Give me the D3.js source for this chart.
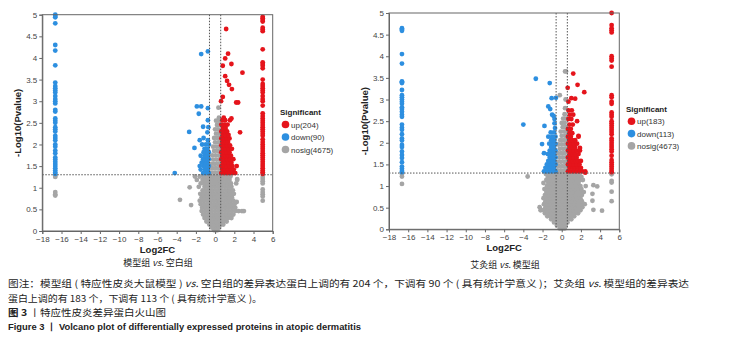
<!DOCTYPE html>
<html><head><meta charset="utf-8">
<script src="https://cdn.jsdelivr.net/npm/d3@7"></script>
<style>
body{margin:0;background:#fff;}
svg{display:block;font-family:"Liberation Sans",Arial,sans-serif;}
</style></head>
<body>
<svg id="c" width="731" height="341"></svg>
<script>
// ---------------- DATA ----------------
const xTickValues = [-18,-16,-14,-12,-10,-8,-6,-4,-2,0,2,4,6];
const yTickValues = [0,0.5,1,1.5,2,2.5,3,3.5,4,4.5,5];
const thresholdP = 1.3;      // -log10(0.05)
const thresholdFC = 0.585;   // log2(1.5)

const legendA = ["up(204)","down(90)","nosig(4675)"];
const legendB = ["up(183)","down(113)","nosig(4673)"];
const titleA = ["模型组 ", "vs.", " 空白组"];
const titleB = ["艾灸组 ", "vs.", " 模型组"];

// vertical columns of points (x, list of y)
const downColA = {x:-16.65, ys:[5.0,4.97,4.94,4.8,4.3,4.17,3.83,3.43,3.35,3.3,3.25,3.2,3.12,3.05,3.0,2.95,2.8,2.76,2.6,2.55,2.5,2.4,2.35,2.3,2.2,2.15,2.1,2.0,1.95,1.86,1.8,1.7,1.65,1.6,1.55,1.5,1.45,1.4,1.35,1.32]};
const nosigColA1 = {x:-16.65, ys:[1.28,1.25,0.9,0.85,0.82]};
const upColA = {x:4.96, ys:[4.95,4.92,4.88,4.84,4.7,4.66,4.62,4.2,3.9,3.86,3.82,3.76,3.5,3.4,3.35,3.3,3.25,3.2,3.12,3.05,3.0,2.9,2.72,2.66,2.6,2.55,2.5,2.45,2.4,2.35,2.3,2.25,2.2,2.12,2.06,2.0,1.95,1.9,1.85,1.8,1.75,1.7,1.65,1.6,1.55,1.5,1.45,1.4,1.36,1.32]};
const nosigColA2 = {x:4.96, ys:[1.25,1.2,1.15,1.1,0.96,0.9,0.85,0.8,0.7]};

const downColB = {x:-16.65, ys:[4.65,4.62,4.59,4.05,3.83,3.42,3.4,3.38,3.22,3.1,3.05,3.0,2.95,2.9,2.82,2.78,2.72,2.65,2.6,2.42,2.35,2.3,2.2,2.1,2.05,1.95,1.9,1.8,1.72,1.65,1.55,1.45,1.4,1.35,1.32]};
const nosigColB1 = {x:-16.65, ys:[1.28,1.22,1.05]};
const upColB = {x:5.2, ys:[5.0,4.72,4.65,4.6,4.55,4.0,3.95,3.9,3.76,3.1,3.05,2.95,2.9,2.7,2.65,2.6,2.5,2.45,2.4,2.35,2.3,2.25,2.2,2.1,2.05,2.0,1.95,1.9,1.85,1.8,1.7,1.6,1.55,1.5,1.45,1.4,1.35,1.32]};
const nosigColB2 = {x:5.2, ys:[1.27,1.12,1.08,0.87,0.65]};

// clouds as rows: [y, x1, x2, ...]
const nosigRowsA = [
 [0.02,-0.1,0.1,0.25],[0.08,-0.35,-0.1,0.15,0.4],[0.15,-0.6,-0.3,0.0,0.3,0.6,0.85],
 [0.22,-0.9,-0.55,-0.2,0.15,0.5,0.85,1.2],[0.3,-1.1,-0.75,-0.4,-0.05,0.3,0.65,1.0,1.35,1.7],
 [0.38,-1.25,-0.9,-0.55,-0.2,0.15,0.5,0.85,1.2,1.55,1.9],
 [0.46,-1.4,-1.05,-0.7,-0.35,0,0.35,0.7,1.05,1.4,1.75,2.1,2.45,2.8,3.0],
 [0.54,-1.35,-1.0,-0.65,-0.3,0.05,0.4,0.75,1.1,1.45,1.8,2.1],
 [0.62,-1.5,-1.15,-0.8,-0.45,-0.1,0.25,0.6,0.95,1.3,1.65,2.0],
 [0.7,-1.6,-1.25,-0.9,-0.55,-0.2,0.15,0.5,0.85,1.2,1.55,1.9],
 [0.78,-1.4,-1.05,-0.7,-0.35,0,0.35,0.7,1.05,1.4,1.75],
 [0.86,-1.55,-1.2,-0.85,-0.5,-0.15,0.2,0.55,0.9,1.25,1.6,1.95],
 [0.94,-1.3,-0.95,-0.6,-0.25,0.1,0.45,0.8,1.15,1.5,1.85],
 [1.02,-1.7,-1.1,-0.75,-0.4,-0.05,0.3,0.65,1.0,1.35,1.7],
 [1.1,-1.5,-1.15,-0.8,-0.45,-0.1,0.25,0.6,0.95,1.3,1.65,2.2],
 [1.18,-1.9,-1.3,-0.95,-0.6,-0.25,0.1,0.45,0.8,1.15,1.5,2.3],
 [1.26,-2.1,-1.6,-1.2,-0.85,-0.5,-0.15,0.2,0.55,0.9,1.25,1.6],
 [1.35,-0.45,-0.1,0.25,0.5],[1.45,-0.3,0.05,0.4],[1.55,-0.4,-0.05,0.3,0.5],[1.65,-0.2,0.15,0.45],
 [1.75,-0.3,0.05,0.4],[1.85,-0.1,0.25,0.5],[1.95,-0.2,0.15,0.45],[2.05,0.0,0.35],
 [2.15,-0.1,0.25,0.5],[2.25,0.1,0.4],[2.35,0.0,0.3],[2.45,0.2,0.45],[2.55,0.1,0.35],[2.62,0.4],[2.85,0.35]
];
const nosigExtraA = [[-3.66,0.72],[-2.65,1.01],[-2.5,0.6],[2.25,0.67],[2.3,1.2]];

const upRowsA = [
 [1.34,0.65,0.95,1.25,1.55,1.85,2.1],[1.42,0.75,1.05,1.35,1.65,1.95],[1.5,0.65,0.9,1.2,1.5,1.8,2.25],
 [1.58,0.8,1.1,1.4,1.7],[1.66,0.65,0.95,1.25,1.55,1.9],[1.74,0.75,1.05,1.35,1.65],
 [1.82,0.65,0.9,1.2,1.5],[1.9,0.8,1.1,1.4,1.75],[1.98,0.65,0.95,1.25,1.55],[2.06,0.75,1.05,1.35],
 [2.14,0.65,0.9,1.2,1.5],[2.22,0.8,1.1,1.4],[2.3,0.65,0.95,1.25],[2.38,0.8,1.1],
 [2.46,0.65,0.95,1.3],[2.56,0.75,1.05,1.55],[2.62,0.9]
];
const upExtraA = [[1.15,4.67],[1.35,4.1],[1.05,3.99],[1.7,3.86],[0.8,3.82],[2.85,3.66],[1.05,3.58],[1.25,3.47],[1.45,3.38],[1.75,3.28],[0.8,3.1],[0.62,3.0],[2.2,2.97],[2.4,2.97],[2.6,2.28],[1.7,2.6]];

const downRowsA = [
 [1.34,-0.65,-0.95,-1.25],[1.42,-0.75,-1.05,-1.5],[1.5,-0.65,-0.9,-1.2,-1.6],[1.58,-0.8,-1.1,-1.4],
 [1.66,-0.65,-0.95,-1.25],[1.74,-0.75,-1.05,-1.5],[1.82,-0.65,-0.9,-1.2],[1.9,-0.8,-1.1],
 [2.0,-0.65,-0.95,-1.35],[2.1,-0.75,-1.6]
];
const downExtraA = [[-0.75,4.15],[-1.45,4.09],[-1.9,2.88],[-1.45,2.88],[-0.75,2.84],[-1.7,2.71],[-0.75,2.56],[-1.25,2.41],[-2.7,2.29],[-0.8,2.28],[-2.15,1.92],[-4.2,1.34],[-1.2,2.15],[-0.7,2.4]];

const nosigRowsB = [
 [0.02,-0.2,0.05,0.3],[0.09,-0.5,-0.2,0.1,0.4],[0.16,-0.8,-0.45,-0.1,0.25,0.6],
 [0.23,-1.1,-0.75,-0.4,-0.05,0.3,0.65,1.0],[0.3,-1.5,-1.15,-0.8,-0.45,-0.1,0.25,0.6,0.95,1.3],
 [0.37,-1.75,-1.4,-1.05,-0.7,-0.35,0,0.35,0.7,1.05,1.4,1.7],
 [0.44,-2.2,-1.9,-1.55,-1.2,-0.85,-0.5,-0.15,0.2,0.55,0.9,1.25,1.6,1.95],
 [0.51,-2.3,-1.7,-1.35,-1.0,-0.65,-0.3,0.05,0.4,0.75,1.1,1.45,1.8,2.15],
 [0.58,-1.85,-1.5,-1.15,-0.8,-0.45,-0.1,0.25,0.6,0.95,1.3,1.65,2.0,2.4],
 [0.65,-1.7,-1.35,-1.0,-0.65,-0.3,0.05,0.4,0.75,1.1,1.45,1.8,2.1],
 [0.72,-1.9,-1.55,-1.2,-0.85,-0.5,-0.15,0.2,0.55,0.9,1.25,1.6,1.95],
 [0.79,-1.75,-1.4,-1.05,-0.7,-0.35,0,0.35,0.7,1.05,1.4,1.75,2.1],
 [0.86,-1.6,-1.25,-0.9,-0.55,-0.2,0.15,0.5,0.85,1.2,1.55,1.9,2.3],
 [0.93,-1.8,-1.45,-1.1,-0.75,-0.4,-0.05,0.3,0.65,1.0,1.35,1.7,2.05],
 [1.0,-1.55,-1.2,-0.85,-0.5,-0.15,0.2,0.55,0.9,1.25,1.6,1.95,2.5],
 [1.07,-1.9,-1.4,-1.05,-0.7,-0.35,0,0.35,0.7,1.05,1.4,1.75],
 [1.14,-1.6,-1.25,-0.9,-0.55,-0.2,0.15,0.5,0.85,1.2,1.55,1.9,2.2],
 [1.21,-1.45,-1.1,-0.75,-0.4,-0.05,0.3,0.65,1.0,1.35,1.7,2.05],
 [1.28,-1.65,-1.3,-0.95,-0.6,-0.25,0.1,0.45,0.8,1.15,1.5,1.85],
 [1.36,-0.45,-0.1,0.25,0.5],[1.46,-0.3,0.05,0.4],[1.56,-0.45,-0.1,0.25,0.5],[1.66,-0.25,0.1,0.45],
 [1.76,-0.4,-0.05,0.3],[1.86,-0.2,0.15,0.5],[1.96,-0.35,0.0,0.35],[2.06,-0.15,0.2,0.5],
 [2.16,0.0,0.35],[2.26,-0.1,0.25,0.5],[2.36,0.1,0.4],[2.46,0.0,0.3],[2.56,0.15,0.45],
 [2.66,0.3],[2.8,0.35],[3.1,-0.2],[3.0,0.4],[3.65,0.35,0.45]
];
const nosigExtraB = [[-3.55,1.22],[3.3,1.02],[3.7,0.99],[3.2,0.82],[3.2,0.66],[3.3,0.45],[4.2,0.43]];

const upRowsB = [
 [1.34,0.65,0.95,1.25,1.55,1.85,2.15,2.45],[1.42,0.8,1.1,1.4,1.7,2.0],[1.5,0.65,0.95,1.25,1.55,1.85],
 [1.58,0.8,1.1,1.4,1.7,2.0],[1.66,0.65,0.95,1.25,1.55],[1.74,0.8,1.1,1.4,1.75],
 [1.82,0.65,0.95,1.25,1.55,1.9],[1.9,0.8,1.1,1.4],[1.98,0.65,0.95,1.25,1.6],[2.06,0.8,1.1,1.4],
 [2.14,0.65,0.95,1.75],[2.22,0.8,1.1],[2.32,0.65,0.95],[2.42,0.8,1.15],[2.55,0.7,1.0],
 [2.65,0.85,1.2],[2.75,0.7,1.05]
];
const upExtraB = [[1.2,3.6],[1.65,3.34],[2.35,3.17],[0.62,3.27],[1.0,3.03],[1.4,3.02],[0.7,2.95],[1.75,2.16],[1.9,1.88],[2.45,1.31],[1.6,2.5]];

const downRowsB = [
 [1.34,-0.65,-0.95,-1.25,-1.55,-1.85],[1.42,-0.8,-1.1,-1.4,-1.7],[1.5,-0.65,-0.95,-1.25,-1.55],
 [1.58,-0.8,-1.1,-1.4],[1.66,-0.65,-0.95,-1.25],[1.74,-0.8,-1.1,-1.45],[1.82,-0.65,-0.95,-1.25],
 [1.9,-0.8,-1.1],[1.98,-0.65,-0.95,-1.3],[2.06,-0.8,-1.1],[2.14,-0.65,-1.0,-1.4],[2.24,-0.8,-1.15],
 [2.34,-0.7],[2.45,-0.75]
];
const downExtraB = [[-2.7,3.48],[-1.25,3.38],[-4.0,2.42],[-1.05,3.03],[-0.6,3.04],[-1.4,2.84],[-1.2,2.78],[-0.85,2.62],[-1.8,2.39],[-2.05,1.97],[-1.85,1.76],[-0.75,2.55],[-1.0,2.65]];

const captionLines = [
 ["图注：模型组 ( 特应性皮炎大鼠模型 ) ", "vs.", " 空白组的差异表达蛋白上调的有 204 个，下调有 90 个 ( 具有统计学意义 )；艾灸组 ", "vs.", " 模型组的差异表达"],
 ["蛋白上调的有 183 个，下调有 113 个 ( 具有统计学意义 )。"]
];
const figLabelCN = ["图 3", "丨特应性皮炎差异蛋白火山图"];
const figLabelEN = "Figure 3  丨  Volcano plot of differentially expressed proteins in atopic dermatitis";

// ---------------- DRAW ----------------
const COLORS = {up:"#e5141b", down:"#2d8fe0", nosig:"#a5a5a5"};
const svg = d3.select("#c");

function rowsToPts(rows){ return rows.flatMap(([y,...xs]) => xs.map(x => [x,y])); }
function colToPts(col){ return col.ys.map(y => [col.x,y]); }

function volcano(cfg){
  const x = d3.scaleLinear().domain([-18,6]).range([cfg.left,cfg.right]);
  const y = d3.scaleLinear().domain([0,5]).range([cfg.bottom,cfg.top]);
  const g = svg.append("g");

  // points
  const groups = [
    ["nosig", cfg.nosig],
    ["down", cfg.down],
    ["up", cfg.up]
  ];
  groups.forEach(([k,pts]) => {
    g.append("g").selectAll("circle").data(pts).join("circle")
      .attr("cx", d => x(d[0])).attr("cy", d => y(d[1])).attr("r", 2.4)
      .attr("fill", COLORS[k]);
  });

  // threshold lines
  const dl = g.append("g").attr("stroke","#555").attr("stroke-width",1).attr("stroke-dasharray","1.5,1.5").attr("fill","none");
  dl.append("line").attr("x1",x(-thresholdFC)).attr("x2",x(-thresholdFC)).attr("y1",y(5)).attr("y2",y(0));
  dl.append("line").attr("x1",x(thresholdFC)).attr("x2",x(thresholdFC)).attr("y1",y(5)).attr("y2",y(0));
  dl.append("line").attr("x1",x(-18)).attr("x2",x(6)).attr("y1",y(thresholdP)).attr("y2",y(thresholdP));

  // frame
  g.append("rect").attr("x",cfg.left).attr("y",cfg.top).attr("width",cfg.right-cfg.left).attr("height",cfg.bottom-cfg.top)
    .attr("fill","none").attr("stroke","#666").attr("stroke-width",1);

  // axes
  const xa = g.append("g").attr("transform",`translate(0,${cfg.bottom})`)
    .call(d3.axisBottom(x).tickValues(xTickValues).tickSize(3).tickPadding(2).tickFormat(d3.format("d")));
  const ya = g.append("g").attr("transform",`translate(${cfg.left},0)`)
    .call(d3.axisLeft(y).tickValues(yTickValues).tickSize(3).tickPadding(2).tickFormat(d => String(d)));
  [xa,ya].forEach(a => {
    a.select(".domain").attr("stroke","#666");
    a.selectAll(".tick line").attr("stroke","#666");
    a.selectAll(".tick text").attr("fill","#444").style("font-size","8px").style("font-family","Liberation Sans, Arial, sans-serif");
  });

  // axis titles
  g.append("text").attr("x",(cfg.left+cfg.right)/2).attr("y",cfg.bottom+21.5)
    .attr("text-anchor","middle").attr("font-weight","bold").attr("font-size",9.5).attr("fill","#222").text("Log2FC");
  g.append("text").attr("transform",`translate(${cfg.left-21},${(cfg.top+cfg.bottom)/2}) rotate(-90)`)
    .attr("text-anchor","middle").attr("font-weight","bold").attr("font-size",9.5).attr("fill","#222").text("-Log10(Pvalue)");

  // legend
  const lg = g.append("g").attr("transform",`translate(${cfg.legX},${cfg.legY})`);
  lg.append("text").attr("x",-3).attr("y",3).attr("font-weight","bold").attr("font-size",8).attr("fill","#222").text("Significant");
  ["up","down","nosig"].forEach((k,i) => {
    lg.append("circle").attr("cx",2.5).attr("cy",cfg.legStep*(i+1)).attr("r",3.8).attr("fill",COLORS[k]);
    lg.append("text").attr("x",8).attr("y",cfg.legStep*(i+1)+3).attr("font-size",8).attr("fill","#333").text(cfg.legend[i]);
  });

  // title below
  const t = g.append("text").attr("x",cfg.titleX).attr("y",cfg.titleY).attr("text-anchor","middle")
    .attr("font-size",9).attr("fill","#222").style("font-family","Noto Sans CJK SC, sans-serif");
  cfg.title.forEach((s,i) => t.append("tspan").attr("font-style", i===1 ? "italic" : null).text(s));
}

volcano({
  left:42.3, right:272.7, top:14.7, bottom:231,
  nosig:[...rowsToPts(nosigRowsA), ...nosigExtraA, ...colToPts(nosigColA1), ...colToPts(nosigColA2)],
  down:[...rowsToPts(downRowsA), ...downExtraA, ...colToPts(downColA)],
  up:[...rowsToPts(upRowsA), ...upExtraA, ...colToPts(upColA)],
  legend:legendA, legX:283, legY:112, legStep:12.5,
  title:titleA, titleX:158, titleY:266
});
volcano({
  left:389, right:619.3, top:13, bottom:229.3,
  nosig:[...rowsToPts(nosigRowsB), ...nosigExtraB, ...colToPts(nosigColB1), ...colToPts(nosigColB2)],
  down:[...rowsToPts(downRowsB), ...downExtraB, ...colToPts(downColB)],
  up:[...rowsToPts(upRowsB), ...upExtraB, ...colToPts(upColB)],
  legend:legendB, legX:629, legY:109, legStep:12.3,
  title:titleB, titleX:505, titleY:268
});

// caption
const cap = svg.append("g").attr("fill","#222").style("font-family","Noto Sans CJK SC, sans-serif");
const capWidths = [681, 254];
captionLines.forEach((parts,i) => {
  const t = cap.append("text").attr("x",8).attr("y",287+i*14.5).attr("font-size",9.5)
    .attr("textLength",capWidths[i]).attr("lengthAdjust","spacingAndGlyphs");
  parts.forEach(s => t.append("tspan").attr("font-style", s==="vs." ? "italic" : null).text(s));
});
const t3 = cap.append("text").attr("x",8).attr("y",316).attr("font-size",9.5)
  .attr("textLength",158).attr("lengthAdjust","spacingAndGlyphs");
t3.append("tspan").attr("font-weight","bold").text(figLabelCN[0]);
t3.append("tspan").text(" " + figLabelCN[1]);
cap.append("text").attr("x",8).attr("y",330).attr("font-size",9).attr("font-weight","bold")
  .attr("textLength",353).attr("lengthAdjust","spacingAndGlyphs").style("font-family","Liberation Sans Narrow, Liberation Sans, sans-serif")
  .text(figLabelEN);
</script>
</body></html>
